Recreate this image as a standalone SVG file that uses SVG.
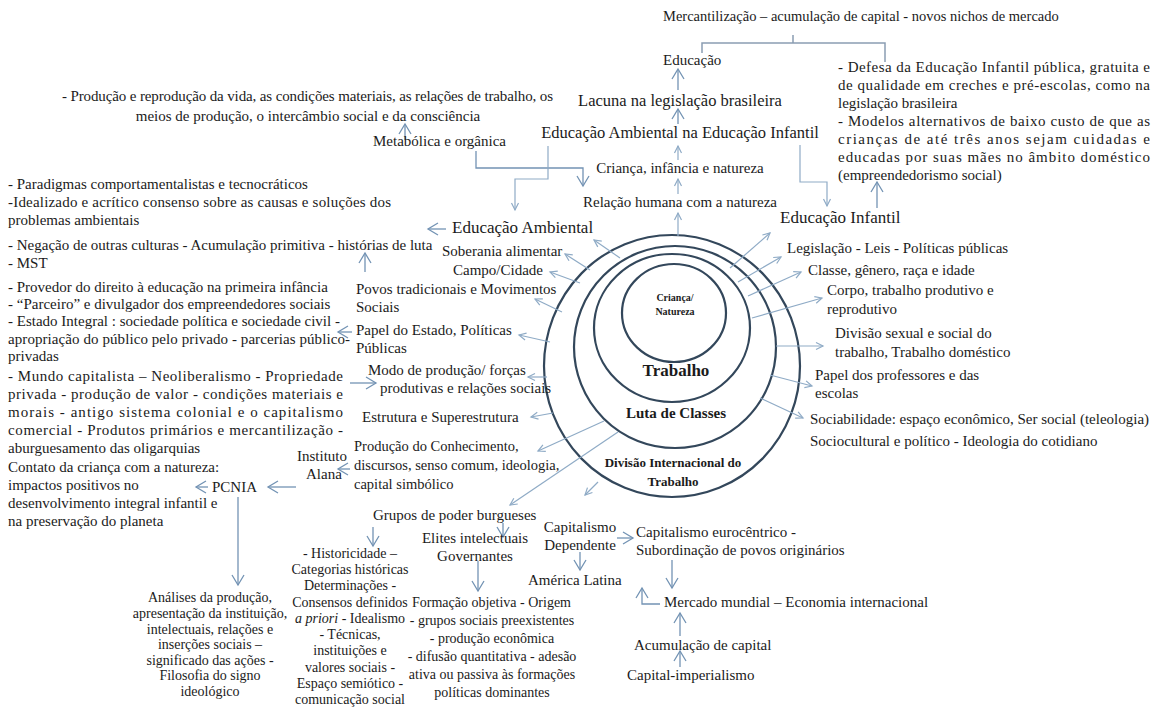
<svg xmlns="http://www.w3.org/2000/svg" width="1162" height="708" viewBox="0 0 1162 708">
<defs>
<style>
text{font-family:"Liberation Serif","Times New Roman",serif;fill:#1b1b1b;font-size:15px}
.s14{font-size:14.5px}
.sm{font-size:14px}
.big{font-size:16.5px}
.big2{font-size:17px}
.c{text-anchor:middle}
.b{font-weight:bold}
.circ{fill:none;stroke:#33475b;stroke-width:2.2}
.ar{fill:none;stroke:#8fabc6;stroke-width:1.2;marker-end:url(#a1)}
.fl{fill:none;stroke:#7393b4;stroke-width:1.3;marker-end:url(#a2)}
.br{fill:none;stroke:#8a9db2;stroke-width:1.5}
</style>
<marker id="a1" markerUnits="userSpaceOnUse" markerWidth="10" markerHeight="10" refX="8" refY="5" orient="auto"><path d="M1,1.5 L8,5 L1,8.5" fill="none" stroke="#8fabc6" stroke-width="1.2"/></marker>
<marker id="a2" markerUnits="userSpaceOnUse" markerWidth="14" markerHeight="14" refX="11" refY="7" orient="auto"><path d="M1,1 L11,7 L1,13" fill="none" stroke="#7393b4" stroke-width="1.3"/></marker>
</defs>
<rect width="1162" height="708" fill="#ffffff"/>

<g id="circles">
<ellipse class="circ" cx="672" cy="366" rx="128" ry="131"/>
<ellipse class="circ" cx="675" cy="347" rx="101" ry="101"/>
<ellipse class="circ" cx="672" cy="328" rx="78" ry="74"/>
<ellipse class="circ" cx="674" cy="313" rx="52" ry="49"/>
<text class="c b" x="675" y="301" style="font-size:10px">Criança/</text>
<text class="c b" x="675" y="315" style="font-size:10px">Natureza</text>
<text class="c b" x="676" y="376" style="font-size:17px">Trabalho</text>
<text class="c b" x="676" y="418">Luta de Classes</text>
<text class="c b" x="673" y="467" style="font-size:13px">Divisão Internacional do</text>
<text class="c b" x="673" y="486" style="font-size:13px">Trabalho</text>
</g>

<g id="connectors">
<path class="br" d="M702,53 V43 H885 V62 M793,43 V35"/>
<path class="fl" d="M678,90 V69"/>
<path class="fl" d="M678,124 V109"/>
<path class="ar" d="M678,160 V146"/>
<path class="ar" d="M678,194 V179"/>
<path class="ar" d="M678,236 V213"/>
<path class="fl" d="M405,140 V124"/>
<path class="fl" d="M476,151 V168 H583 V186"/>
<path class="ar" d="M548,146 V179 H515 V210"/>
<path class="ar" d="M800,145 V182 H827 V206"/>
<path class="fl" d="M877,208 V182"/>
<path class="fl" d="M446,229 H428"/>
<path class="fl" d="M365,272 V253"/>
<path class="fl" d="M352,332 H338"/>
<path class="fl" d="M350,383 H376"/>
<path class="fl" d="M350,469 H338"/>
<path class="fl" d="M296,487 H268"/>
<path class="fl" d="M208,487 H196"/>
<path class="fl" d="M238,497 V585"/>
<path class="ar" d="M620,258 L594,240"/>
<path class="ar" d="M590,270 L565,254"/>
<path class="ar" d="M580,283 L550,272"/>
<path class="ar" d="M562,312 L535,299"/>
<path class="ar" d="M550,342 L519,335"/>
<path class="ar" d="M547,377 H528"/>
<path class="ar" d="M553,413 L531,417"/>
<path class="ar" d="M604,421 L538,451"/>
<path class="ar" d="M618,432 L510,505"/>
<path class="ar" d="M598,482 L585,495"/>
<path class="ar" d="M730,268 L770,233"/>
<path class="ar" d="M738,282 L781,257"/>
<path class="ar" d="M748,296 L801,272"/>
<path class="ar" d="M752,318 L822,298"/>
<path class="ar" d="M776,346 H823"/>
<path class="ar" d="M770,375 L812,386"/>
<path class="ar" d="M760,398 L803,418"/>
<path class="fl" d="M373,527 V546"/>
<path class="fl" d="M503,523 V537"/>
<path class="fl" d="M478,561 V591"/>
<path class="fl" d="M617,538 H633"/>
<path class="fl" d="M580,552 V570"/>
<path class="fl" d="M672,560 V588"/>
<path class="fl" d="M660,604 H642 V588"/>
<path class="fl" d="M680,636 V613"/>
<path class="fl" d="M680,667 V651"/>
</g>

<g id="top">
<text class="s14" x="663" y="21">Mercantilização – acumulação de capital - novos nichos de mercado</text>
<text x="663" y="65">Educação</text>
<text class="c big" x="680" y="106">Lacuna na legislação  brasileira</text>
<text class="c big" x="680" y="138">Educação Ambiental na Educação Infantil</text>
<text class="c" x="680" y="173">Criança, infância e natureza</text>
<text class="c" x="680" y="207">Relação humana com a natureza</text>
</g>

<g id="producao">
<text x="62" y="101" textLength="491" lengthAdjust="spacing">- Produção e reprodução da vida, as condições materiais, as relações de trabalho, os</text>
<text class="c" x="308" y="121">meios de produção, o intercâmbio social e da consciência</text>
<text x="373" y="146">Metabólica e orgânica</text>
</g>

<g id="defesa">
<text x="838" y="72" textLength="312" lengthAdjust="spacing">- Defesa da Educação Infantil pública, gratuita e</text>
<text x="838" y="90" textLength="312" lengthAdjust="spacing">de qualidade em creches e pré-escolas, como na</text>
<text x="838" y="108">legislação brasileira</text>
<text x="838" y="126" textLength="312" lengthAdjust="spacing">- Modelos alternativos de baixo custo de que as</text>
<text x="838" y="144" textLength="312" lengthAdjust="spacing">crianças de até três anos sejam cuidadas e</text>
<text x="838" y="162" textLength="312" lengthAdjust="spacing">educadas por suas mães no âmbito doméstico</text>
<text x="838" y="180">(empreendedorismo social)</text>
</g>

<g id="left-column">
<text x="8" y="189">- Paradigmas comportamentalistas e tecnocráticos</text>
<text x="8" y="207" textLength="383" lengthAdjust="spacing">-Idealizado e acrítico consenso sobre as causas e soluções dos</text>
<text x="8" y="225">problemas ambientais</text>
<text x="8" y="250">- Negação de outras culturas - Acumulação primitiva - histórias de luta</text>
<text x="8" y="268">- MST</text>
<text x="8" y="292">- Provedor do direito à educação na primeira infância</text>
<text x="8" y="309">- “Parceiro” e divulgador dos empreendedores sociais</text>
<text x="8" y="326">- Estado Integral : sociedade política e sociedade civil -</text>
<text x="8" y="344" textLength="342" lengthAdjust="spacing">apropriação do público pelo privado - parcerias público-</text>
<text x="8" y="361">privadas</text>
<text x="8" y="381" textLength="335" lengthAdjust="spacing">- Mundo capitalista – Neoliberalismo - Propriedade</text>
<text x="8" y="399" textLength="335" lengthAdjust="spacing">privada  - produção de valor - condições materiais e</text>
<text x="8" y="417" textLength="335" lengthAdjust="spacing">morais - antigo sistema colonial e o capitalismo</text>
<text x="8" y="435" textLength="335" lengthAdjust="spacing">comercial - Produtos primários e  mercantilização -</text>
<text x="8" y="453">aburguesamento das oligarquias</text>
<text x="8" y="472">Contato da criança com a natureza:</text>
<text x="8" y="490">impactos positivos no</text>
<text x="8" y="508">desenvolvimento integral infantil e</text>
<text x="8" y="526">na preservação do planeta</text>
</g>

<g id="left-labels">
<text class="big2" x="452" y="233">Educação Ambiental</text>
<text x="442" y="256">Soberania  alimentar</text>
<text x="453" y="275">Campo/Cidade</text>
<text x="356" y="294">Povos tradicionais  e Movimentos</text>
<text x="356" y="312">Sociais</text>
<text x="356" y="335">Papel do Estado, Políticas</text>
<text x="356" y="353">Públicas</text>
<text x="368" y="375">Modo de produção/  forças</text>
<text x="380" y="393">produtivas  e relações  sociais</text>
<text x="362" y="422">Estrutura e Superestrutura</text>
<text x="354" y="451" style="font-size:14.5px">Produção do Conhecimento,</text>
<text x="354" y="470" style="font-size:14.5px">discursos, senso comum, ideologia,</text>
<text x="354" y="489" style="font-size:14.5px">capital  simbólico</text>
<text x="297" y="461">Instituto</text>
<text x="306" y="479">Alana</text>
<text x="212" y="492">PCNIA</text>
</g>

<g id="analises">
<text class="c sm" x="210" y="602">Análises da produção,</text>
<text class="c sm" x="210" y="618">apresentação da instituição,</text>
<text class="c sm" x="210" y="634">intelectuais, relações e</text>
<text class="c sm" x="210" y="649">inserções sociais –</text>
<text class="c sm" x="210" y="665">significado das ações -</text>
<text class="c sm" x="210" y="680">Filosofia do signo</text>
<text class="c sm" x="210" y="696">ideológico</text>
</g>

<g id="historicidade">
<text x="373" y="520">Grupos de poder burgueses</text>
<text class="c sm" x="350" y="558">- Historicidade –</text>
<text class="c sm" x="350" y="574">Categorias históricas</text>
<text class="c sm" x="350" y="590">Determinações -</text>
<text class="c sm" x="350" y="607">Consensos definidos</text>
<text class="c sm" x="350" y="623"><tspan font-style="italic">a priori</tspan>  - Idealismo</text>
<text class="c sm" x="350" y="639">- Técnicas,</text>
<text class="c sm" x="350" y="655">instituições e</text>
<text class="c sm" x="350" y="672">valores sociais  -</text>
<text class="c sm" x="350" y="688">Espaço semiótico -</text>
<text class="c sm" x="350" y="704">comunicação social</text>
</g>

<g id="formacao">
<text class="c" x="475" y="543">Elites intelectuais</text>
<text class="c" x="475" y="561">Governantes</text>
<text class="sm" x="412" y="607">Formação objetiva  - Origem</text>
<text class="c sm" x="492" y="625">- grupos sociais preexistentes</text>
<text class="c sm" x="492" y="643">- produção econômica</text>
<text class="c sm" x="492" y="661">- difusão quantitativa - adesão</text>
<text class="c sm" x="492" y="679">ativa ou passiva às formações</text>
<text class="c sm" x="492" y="697">políticas dominantes</text>
</g>

<g id="capitalismo">
<text class="c" x="580" y="532">Capitalismo</text>
<text class="c" x="580" y="550">Dependente</text>
<text x="636" y="537">Capitalismo eurocêntrico -</text>
<text x="636" y="555">Subordinação de povos originários</text>
<text x="528" y="585">América Latina</text>
<text x="664" y="607">Mercado mundial –  Economia internacional</text>
<text x="634" y="650">Acumulação de capital</text>
<text x="627" y="680">Capital-imperialismo</text>
</g>

<g id="right-labels">
<text class="big2" x="780" y="223">Educação Infantil</text>
<text x="787" y="253">Legislação - Leis - Políticas públicas</text>
<text x="808" y="275">Classe, gênero, raça e idade</text>
<text x="827" y="295">Corpo, trabalho produtivo e</text>
<text x="827" y="314">reprodutivo</text>
<text x="835" y="338">Divisão sexual e  social do</text>
<text x="835" y="357">trabalho, Trabalho doméstico</text>
<text x="815" y="380">Papel dos professores e das</text>
<text x="815" y="398">escolas</text>
<text x="810" y="424">Sociabilidade:  espaço econômico, Ser social (teleologia)</text>
<text x="810" y="446">Sociocultural e político  - Ideologia do cotidiano</text>
</g>
</svg>
